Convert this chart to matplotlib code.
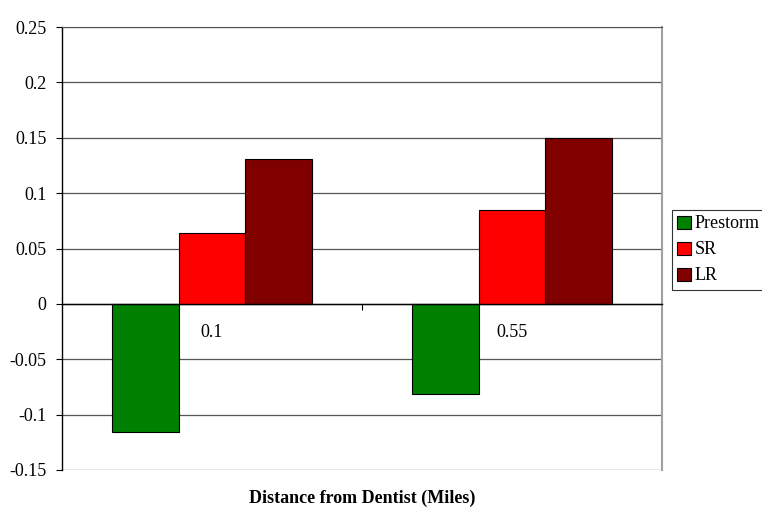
import numpy as np
import matplotlib.pyplot as plt

plt.rcParams['font.family'] = ['Liberation Serif', 'DejaVu Serif']

categories = ['0.1', '0.55']
series = ['Prestorm', 'SR', 'LR']
values = {
    'Prestorm': [-0.116, -0.081],
    'SR': [0.064, 0.085],
    'LR': [0.131, 0.150],
}
colors = {'Prestorm': '#008000', 'SR': '#ff0000', 'LR': '#800000'}
yticks = [-0.15, -0.1, -0.05, 0, 0.05, 0.1, 0.15, 0.2, 0.25]
ytick_labels = ['-0.15', '-0.1', '-0.05', '0', '0.05', '0.1', '0.15', '0.2', '0.25']

fig = plt.figure(figsize=(7.62, 5.09), dpi=100)
ax = fig.add_axes([62/762, 1-470/509, 600/762, 443/509])

x = np.arange(len(categories))
w = 0.2233
for i, s in enumerate(series):
    ax.bar(x + (i - 1) * w, values[s], w, color=colors[s], edgecolor='black',
           linewidth=0.8, label=s, zorder=3)

ax.set_xlim(-0.5, len(categories) - 0.5)
ax.set_ylim(-0.15, 0.25)
ax.set_yticks(yticks)
ax.set_yticklabels(ytick_labels, fontsize=13)
ax.yaxis.grid(True, color='#555555', linewidth=0.9)
ax.set_axisbelow(True)

# category axis crosses at zero, ticks at group boundaries
ax.spines['bottom'].set_position(('data', 0))
ax.spines['bottom'].set_zorder(4)
ax.spines['bottom'].set_linewidth(1.0)
ax.set_xticks([0.5])
ax.set_xticklabels([])
ax.tick_params(axis='x', direction='out', length=4, width=0.8)
ax.tick_params(axis='y', direction='out', length=4, width=0.8, pad=7)
ax.spines['left'].set_linewidth(1.0)
ax.spines['top'].set_color('#555555')
ax.spines['right'].set_color('#a0a0a0')
ax.spines['right'].set_linewidth(1.5)

for xi, c in zip(x, categories):
    ax.annotate(c, (xi, 0), xytext=(0, -29), textcoords='offset pixels',
                ha='center', va='center', fontsize=13)

fig.text(362/762, 1-498/509, 'Distance from Dentist (Miles)', ha='center',
         va='center', fontsize=13, fontweight='bold')

leg = fig.legend(loc='upper left', bbox_to_anchor=(672/762, 1-210/509),
                 fontsize=13, frameon=True, fancybox=False, borderpad=0.3,
                 handlelength=0.75, handleheight=0.75, handletextpad=0.2,
                 labelspacing=0.5, borderaxespad=0)
leg.get_frame().set_edgecolor('black')
leg.get_frame().set_linewidth(0.8)

fig.savefig('out.png', dpi=100)
